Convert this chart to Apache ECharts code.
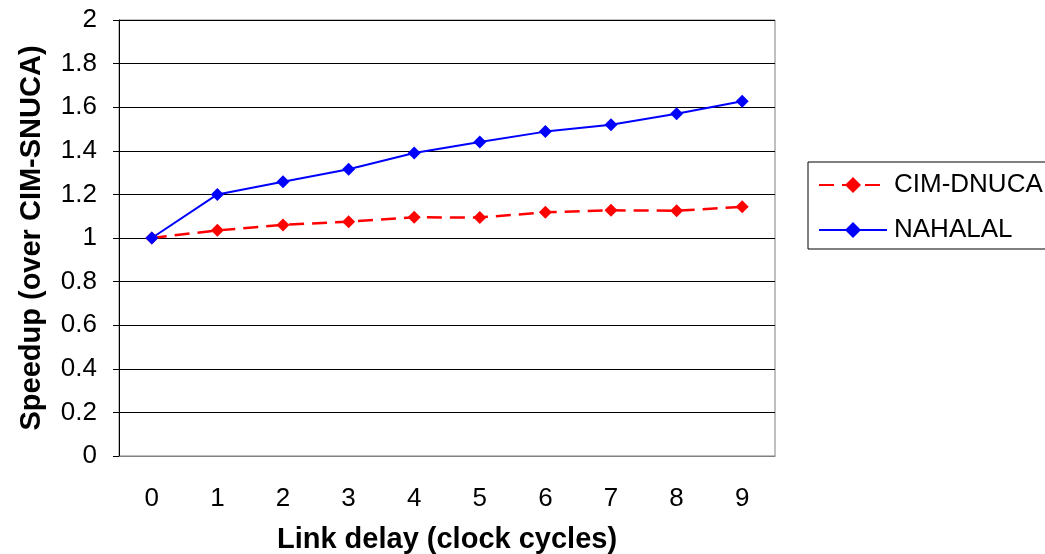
<!DOCTYPE html>
<html>
<head>
<meta charset="utf-8">
<script src="https://cdn.jsdelivr.net/npm/echarts@6/dist/echarts.min.js"></script>
<style>
  html, body { margin: 0; padding: 0; background: #fff; }
  #main { width: 1045px; height: 554px; }
</style>
</head>
<body>
<div id="main"></div>
<script>
// 数据
const linkDelay = ['0', '1', '2', '3', '4', '5', '6', '7', '8', '9'];
const cimDnuca = [1.0, 1.035, 1.06, 1.075, 1.095, 1.094, 1.118, 1.127, 1.125, 1.143];
const nahalal = [1.0, 1.2, 1.258, 1.315, 1.39, 1.44, 1.488, 1.52, 1.57, 1.627];

const FONT = "'Liberation Sans', Arial, sans-serif";

let myChart = echarts.init(document.getElementById('main'));
let option = {
  backgroundColor: '#fff',
  animation: false,
  grid: {
    left: 119,
    right: 270,
    top: 20,
    bottom: 98,
    outerBoundsMode: 'none',
    containLabel: false,
    show: true,
    borderColor: '#808080',
    borderWidth: 1
  },
  legend: {
    orient: 'vertical',
    left: 808,
    top: 162,
    padding: [10, 10, 6, 10],
    itemGap: 19,
    itemWidth: 68,
    itemHeight: 20,
    borderColor: '#000',
    borderWidth: 1,
    textStyle: { fontFamily: FONT, fontSize: 26, color: '#000', padding: [0, 0, 0, 2] },
    data: ['CIM-DNUCA', 'NAHALAL']
  },
  xAxis: {
    type: 'category',
    data: linkDelay,
    boundaryGap: true,
    name: 'Link delay (clock cycles)',
    nameLocation: 'middle',
    nameGap: 69,
    nameTextStyle: { fontFamily: FONT, fontSize: 29, fontWeight: 'bold', color: '#000' },
    axisLine: { lineStyle: { color: '#808080', width: 1 } },
    axisTick: { show: false },
    axisLabel: { fontFamily: FONT, fontSize: 26, color: '#000', margin: 30 },
    splitLine: { show: false }
  },
  yAxis: {
    type: 'value',
    min: 0,
    max: 2,
    interval: 0.2,
    name: 'Speedup (over CIM-SNUCA)',
    nameLocation: 'middle',
    nameRotate: 90,
    nameGap: 73,
    nameTextStyle: { fontFamily: FONT, fontSize: 29, fontWeight: 'bold', color: '#000' },
    axisLine: { show: true, lineStyle: { color: '#000', width: 1 } },
    axisTick: { show: true, length: 6, lineStyle: { color: '#000' } },
    axisLabel: {
      fontFamily: FONT, fontSize: 26, color: '#000', margin: 22,
      formatter: v => String(Math.round(v * 10) / 10)
    },
    splitLine: { show: true, lineStyle: { color: '#000', width: 1 } }
  },
  series: [
    {
      name: 'CIM-DNUCA',
      type: 'line',
      data: cimDnuca,
      symbol: 'diamond',
      symbolSize: 13,
      itemStyle: { color: '#ff0000' },
      lineStyle: { color: '#ff0000', width: 2.5, type: [15, 8] }
    },
    {
      name: 'NAHALAL',
      type: 'line',
      data: nahalal,
      symbol: 'diamond',
      symbolSize: 13,
      itemStyle: { color: '#0000ff' },
      lineStyle: { color: '#0000ff', width: 2 }
    }
  ]
};
myChart.setOption(option);
</script>
</body>
</html>
